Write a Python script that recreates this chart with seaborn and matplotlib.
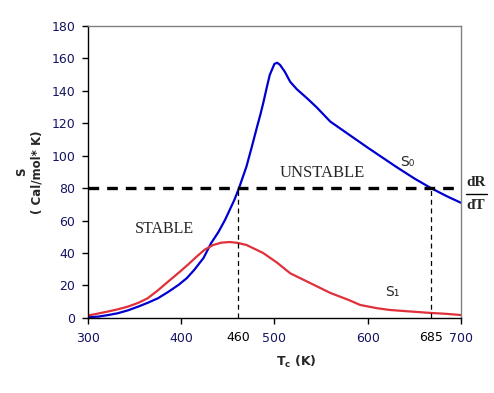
import numpy as np
import pandas as pd
import seaborn as sns
import matplotlib.pyplot as plt
from matplotlib.lines import Line2D

# curve S0 (blue)
s0_t = [300, 311, 322, 332, 343, 354, 364, 375, 386, 397, 406, 414, 424, 432, 440, 447,
        457, 462, 470, 476, 481, 485, 488, 492, 495, 500, 503, 506, 511, 517, 524, 535,
        545, 560, 580, 600, 631, 650, 668, 685, 700]
s0_s = [0.5, 0.8, 1.8, 2.9, 4.7, 7, 9.3, 12.1, 16, 20.3, 24.5, 29.6, 37, 46, 53, 60.4,
        72.7, 80, 93.3, 106, 117, 125.5, 132.4, 142.6, 149.8, 156.6, 157.3, 156, 151.9, 145.5, 141, 135.4,
        130, 121, 113, 105, 93, 86, 80, 75, 71]

# curve S1 (red)
s1_t = [300, 310, 321, 332, 343, 354, 364, 375, 386, 397, 407, 416, 425, 434, 443, 452,
        460, 470, 488, 503, 517, 538, 560, 580, 592, 610, 624, 645, 667, 685, 700]
s1_s = [1.5, 2.6, 3.9, 5.3, 7, 9.3, 12.1, 17, 22.4, 27.7, 32.7, 37.5, 42, 44.9, 46.4, 46.8,
        46.3, 45, 40, 34, 27.5, 21.6, 15.4, 11, 8, 6, 4.9, 4, 3.1, 2.5, 1.8]

x_ticks = [300, 400, 500, 600, 700]
y_ticks = [0, 20, 40, 60, 80, 100, 120, 140, 160, 180]
threshold = 80
crit_x = [461, 668]
crit_labels = ['460', '685']

df = pd.concat([
    pd.DataFrame({'T': s0_t, 'S': s0_s, 'curve': 'S0'}),
    pd.DataFrame({'T': s1_t, 'S': s1_s, 'curve': 'S1'}),
])

sns.set_style('white')
plt.rcParams['font.family'] = ['DejaVu Sans']

fig = plt.figure(figsize=(4.94, 3.93), dpi=100)
ax = fig.add_axes([0.178, 0.191, 0.755, 0.743])

sns.lineplot(data=df, x='T', y='S', hue='curve', palette={'S0': '#0000d0', 'S1': '#e0303a'},
             linewidth=1.6, legend=False, ax=ax, sort=False)

ax.hlines(threshold, 300, 697, colors='black', linewidth=2.4, linestyles=(0, (3.2, 2.4)))
ax.vlines(crit_x, 0, threshold, colors='black', linewidth=0.9, linestyles=(0, (4, 3)))

ax.set_xlim(300, 700)
ax.set_ylim(0, 180)
ax.set_xticks(x_ticks)
ax.set_yticks(y_ticks)
ax.tick_params(axis='both', direction='out', length=4, width=1, labelsize=9,
               labelcolor='#141460', color='black', left=True, bottom=True)
ax.tick_params(axis='x', pad=6)
ax.tick_params(axis='y', pad=5)

for side in ['left', 'bottom']:
    ax.spines[side].set_color('black')
    ax.spines[side].set_linewidth(1)
for side in ['top', 'right']:
    ax.spines[side].set_color('#808080')
    ax.spines[side].set_linewidth(1)

for cx, lab in zip(crit_x, crit_labels):
    ax.text(cx, -0.068, lab, transform=ax.get_xaxis_transform(), ha='center', va='center',
            fontsize=9, color='black')

ax.set_xlabel('')
ax.set_ylabel('S\n( Cal/mol* K)', fontsize=8.5, fontweight='bold', linespacing=1.2, labelpad=6)
ax.text(0.56, -0.152, 'T$_\\mathbf{c}$ (K)', transform=ax.transAxes, ha='center', va='center',
        fontsize=9, fontweight='bold')

serif = ['Liberation Serif', 'DejaVu Serif']
ax.text(551, 89.5, 'UNSTABLE', family=serif, fontsize=12, ha='center', va='center')
ax.text(382.5, 54.6, 'STABLE', family=serif, fontsize=11.5, ha='center', va='center')
ax.text(634.5, 96, 'S\u2080', fontsize=10, ha='left', va='center')
ax.text(618.5, 16, 'S\u2081', fontsize=10, ha='left', va='center')

fig.text(0.9636, 0.5344, 'dR', family=serif, fontweight='bold', fontsize=11, ha='center', va='center')
fig.text(0.9636, 0.478, 'dT', family=serif, fontweight='bold', fontsize=11, ha='center', va='center')
fig.add_artist(Line2D([466 / 494, 487 / 494], [1 - 194 / 393, 1 - 194 / 393], color='black', linewidth=1))

fig.savefig('out.png', dpi=100)
